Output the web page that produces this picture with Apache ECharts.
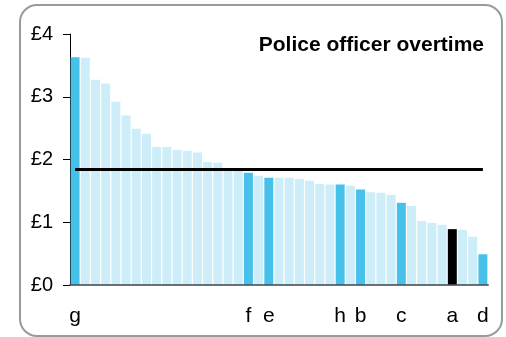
<!DOCTYPE html>
<html>
<head>
<meta charset="utf-8">
<script src="https://cdn.jsdelivr.net/npm/echarts@6/dist/echarts.min.js"></script>
<style>
html,body{margin:0;padding:0;background:#fff;}
#chart{width:506px;height:337px;}
</style>
</head>
<body>
<div id="chart"></div>
<script>
// Categories (only labelled bars carry a letter)
const categories = ["g","","","","","","","","","","","","","","","","","f","","e","","","","","","","h","","b","","","","c","","","","","a","","","d"];
// Overtime cost per bar (£)
const values = [3.63,3.62,3.27,3.21,2.92,2.70,2.49,2.41,2.20,2.20,2.15,2.14,2.11,1.96,1.95,1.86,1.83,1.79,1.74,1.71,1.71,1.71,1.69,1.66,1.61,1.60,1.60,1.58,1.52,1.48,1.47,1.44,1.31,1.26,1.02,0.99,0.96,0.89,0.88,0.77,0.49];
// Highlight type per bar: 0 = other, 1 = highlighted, 2 = focus
const highlight = [1,0,0,0,0,0,0,0,0,0,0,0,0,0,0,0,0,1,0,1,0,0,0,0,0,0,1,0,1,0,0,0,1,0,0,0,0,2,0,0,1];
const average = 1.84;
const yTicks = [0,1,2,3,4];
const title = "Police officer overtime";

const colors = ["#cdedf9", "#48c1ea", "#000000"];
const font = "'Liberation Sans', Arial, sans-serif";

const chart = echarts.init(document.getElementById('chart'), null, {renderer:'canvas'});
chart.setOption({
  animation: false,
  title: {
    text: title, right: 17, top: 30,
    textStyle: {fontFamily: font, fontSize: 21, fontWeight: 'bold', color: '#000'}
  },
  graphic: [{
    type: 'rect', z: 100, silent: true,
    shape: {x: 20, y: 5, width: 482, height: 331, r: 17},
    style: {fill: 'none', stroke: '#9a9a9a', lineWidth: 2}
  }],
  grid: {left: 70, right: 18, top: 34, bottom: 52, containLabel: false},
  xAxis: {
    type: 'category', data: categories, z: 5,
    axisLine: {lineStyle: {color: 'rgba(70,80,85,0.8)', width: 2}},
    axisTick: {show: false},
    axisLabel: {interval: 0, margin: 21, fontFamily: font, fontSize: 21, color: '#000'}
  },
  yAxis: {
    type: 'value', min: 0, max: 4, interval: 1,
    axisLine: {show: true, lineStyle: {color: '#000', width: 1}},
    axisTick: {show: true, length: 7, lineStyle: {color: '#000'}},
    splitLine: {show: false},
    axisLabel: {margin: 17, fontFamily: font, fontSize: 20, color: '#000',
      formatter: v => yTicks.includes(v) ? '£' + v : ''}
  },
  series: [{
    type: 'bar',
    barCategoryGap: '12%',
    data: values.map((v, i) => ({value: v, itemStyle: {color: colors[highlight[i]]}})),
    markLine: {
      silent: true, symbol: 'none',
      label: {show: false},
      lineStyle: {color: '#000', width: 3, type: 'solid'},
      data: [[{coord: [0, average]}, {coord: [values.length - 1, average]}]]
    }
  }]
});
</script>
</body>
</html>
